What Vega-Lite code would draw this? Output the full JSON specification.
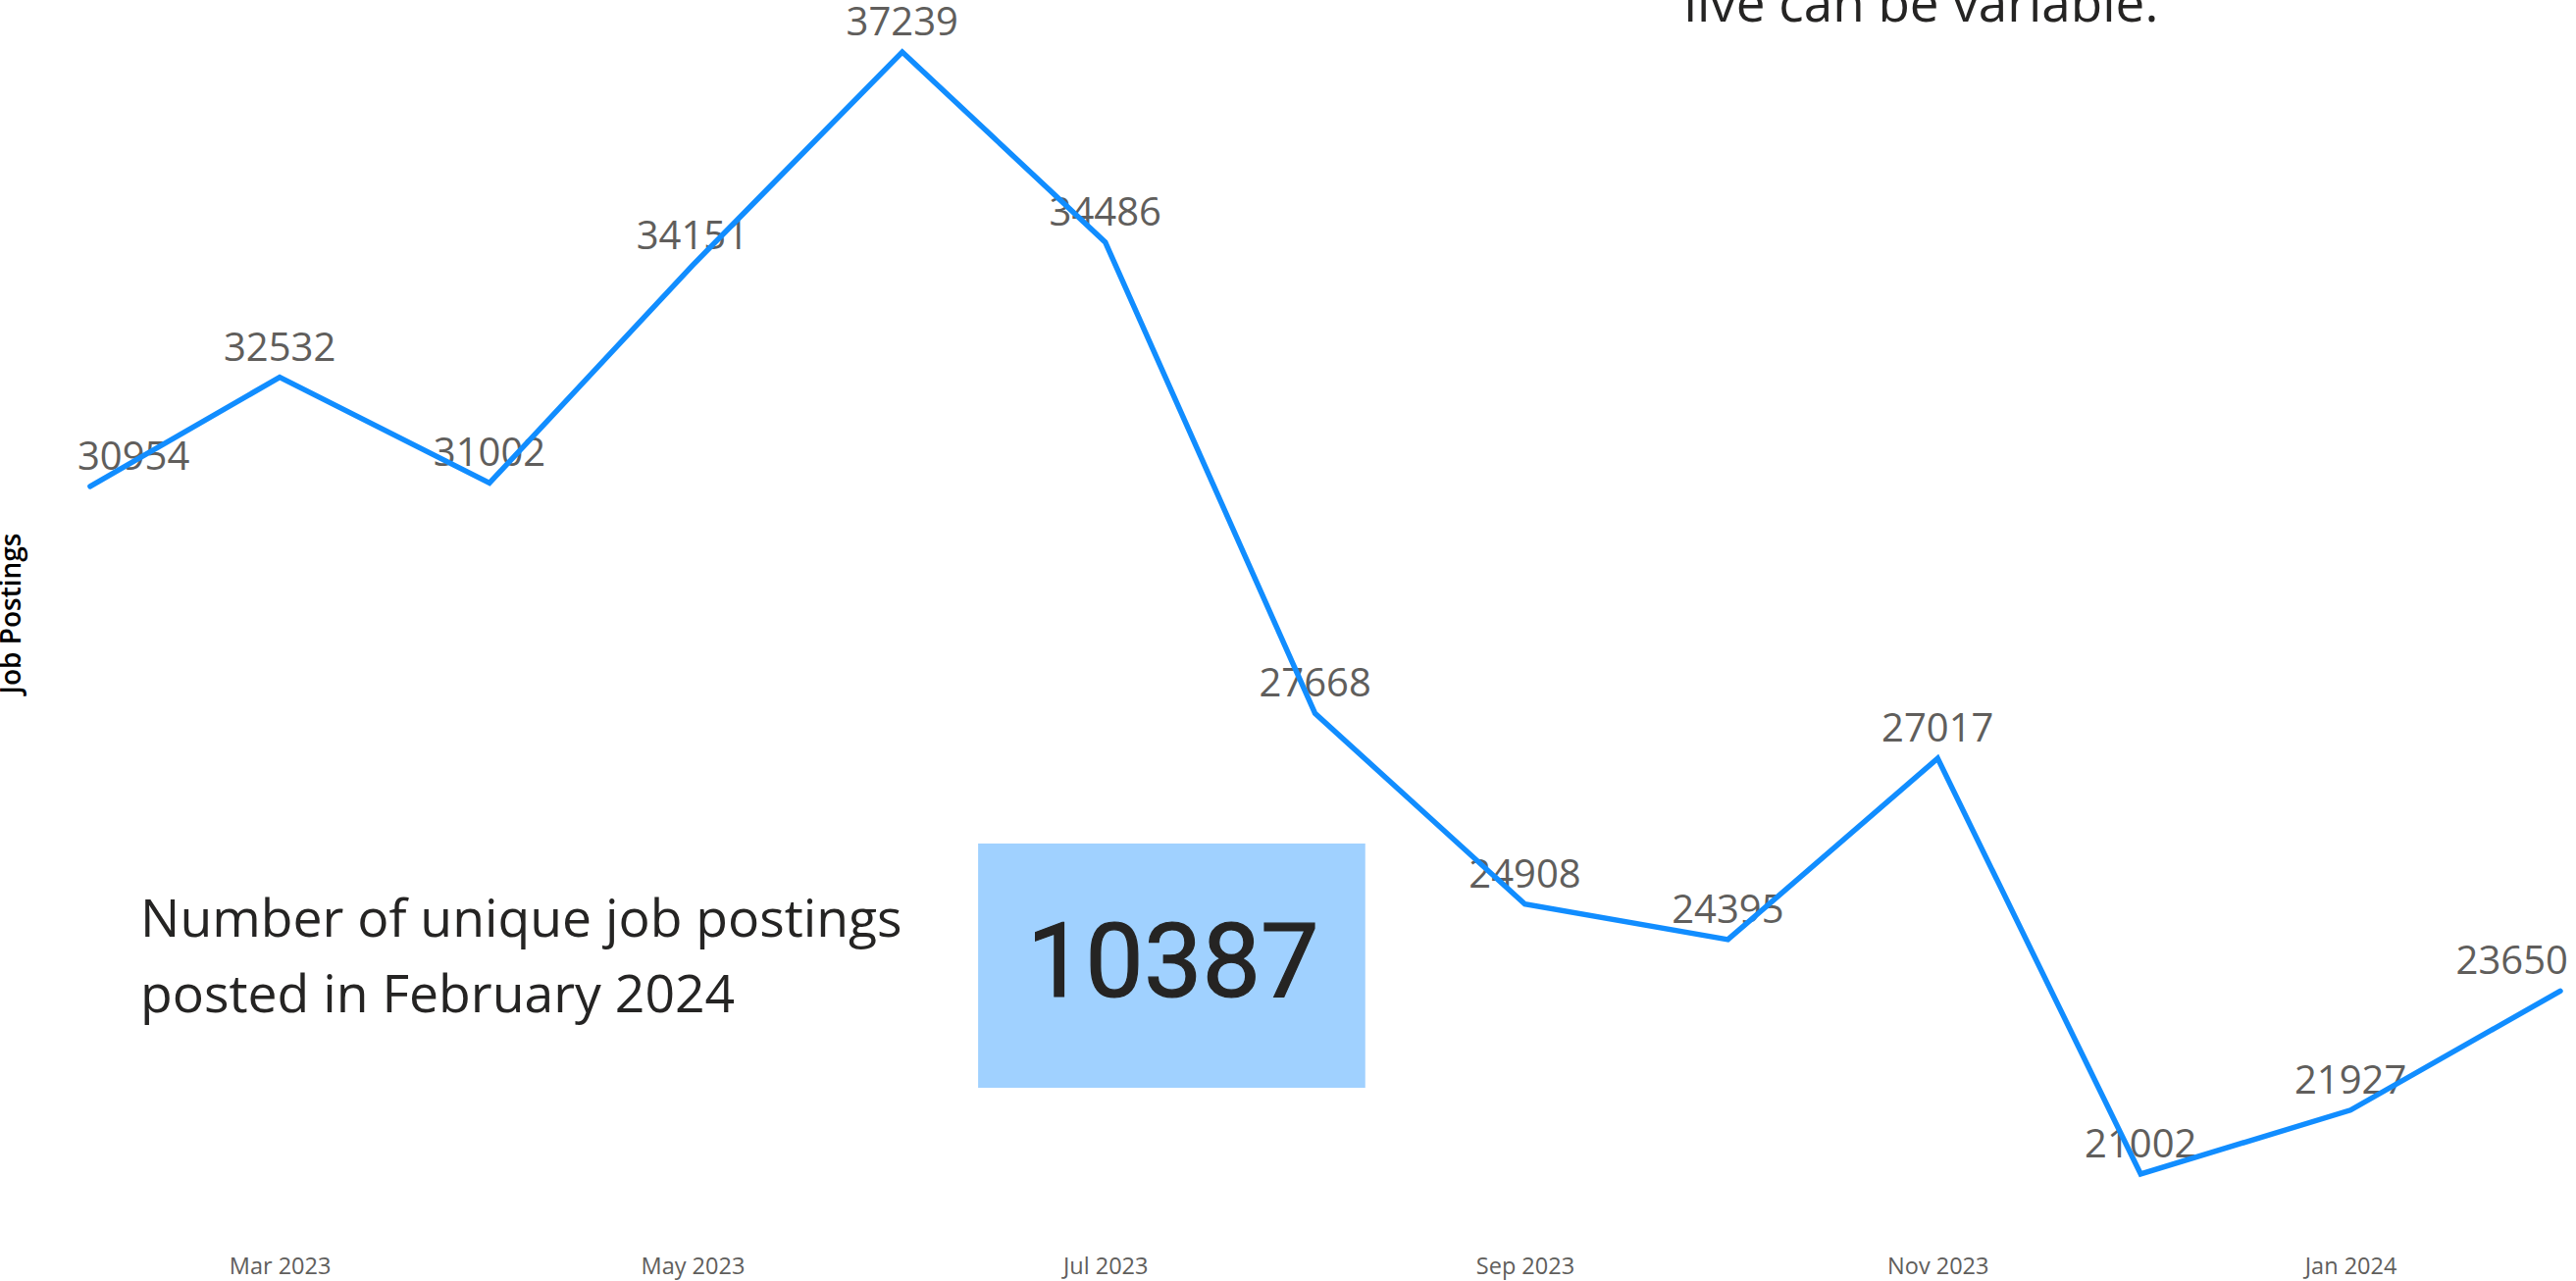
{
  "$schema": "https://vega.github.io/schema/vega-lite/v6.json",
  "autosize": {"type": "none"},
  "width": 2539,
  "height": 1250,
  "padding": {"left": 79, "top": 0, "right": 8, "bottom": 56},
  "background": "white",
  "config": {"view": {"stroke": null}},
  "datasets": {
    "postings": [
      {"date": "2023-02-01", "value": 30954},
      {"date": "2023-03-01", "value": 32532},
      {"date": "2023-04-01", "value": 31002},
      {"date": "2023-05-01", "value": 34151},
      {"date": "2023-06-01", "value": 37239},
      {"date": "2023-07-01", "value": 34486},
      {"date": "2023-08-01", "value": 27668},
      {"date": "2023-09-01", "value": 24908},
      {"date": "2023-10-01", "value": 24395},
      {"date": "2023-11-01", "value": 27017},
      {"date": "2023-12-01", "value": 21002},
      {"date": "2024-01-01", "value": 21927},
      {"date": "2024-02-01", "value": 23650}
    ],
    "card": [
      {"date": "2023-06-12T05:00:00Z", "date2": "2023-08-08T10:00:00Z", "value": 25785, "value2": 22251}
    ],
    "cardValue": [
      {"date": "2023-07-11T00:00:00Z", "value": 23571, "label": "10387"}
    ],
    "caption": [
      {"date": "2023-02-08T10:00:00Z", "value": 24430, "label": "Number of unique job postings"},
      {"date": "2023-02-08T10:00:00Z", "value": 23343, "label": "posted in February 2024"}
    ],
    "note": [
      {"date": "2023-09-24T12:00:00Z", "value": 37679, "label": "live can be variable."}
    ]
  },
  "encoding": {
    "x": {
      "field": "date",
      "type": "temporal",
      "scale": {
        "type": "utc",
        "domain": [
          {"year": 2023, "month": 1, "date": 30, "hours": 3, "utc": true},
          {"year": 2024, "month": 2, "date": 2, "hours": 4, "utc": true}
        ]
      },
      "axis": {
        "title": null,
        "values": [
          {"year": 2023, "month": 3, "date": 1, "utc": true},
          {"year": 2023, "month": 5, "date": 1, "utc": true},
          {"year": 2023, "month": 7, "date": 1, "utc": true},
          {"year": 2023, "month": 9, "date": 1, "utc": true},
          {"year": 2023, "month": 11, "date": 1, "utc": true},
          {"year": 2024, "month": 1, "date": 1, "utc": true}
        ],
        "format": "%b %Y",
        "labelFont": "Open Sans",
        "labelFontSize": 23.5,
        "labelColor": "#605E5C",
        "ticks": false,
        "tickSize": 0,
        "domain": false,
        "grid": false,
        "labelPadding": 29
      }
    },
    "y": {
      "field": "value",
      "type": "quantitative",
      "scale": {"domain": [20249, 37991], "zero": false, "nice": false},
      "axis": {
        "title": "Job Postings",
        "titleFont": "Open Sans",
        "titleFontSize": 28,
        "titleFontWeight": 600,
        "titleColor": "#000000",
        "titlePadding": 53,
        "labels": false,
        "ticks": false,
        "tickSize": 0,
        "domain": false,
        "grid": false
      }
    }
  },
  "layer": [
    {
      "data": {"name": "postings"},
      "transform": [{"filter": "datum.value != 30954 && datum.value != 23650"}],
      "mark": {"type": "text", "font": "Open Sans", "fontSize": 40, "color": "#605E5C", "align": "center", "baseline": "alphabetic", "dy": -17},
      "encoding": {"text": {"field": "value", "type": "quantitative", "format": "d"}}
    },
    {
      "data": {"name": "postings"},
      "transform": [{"filter": "datum.value == 30954"}],
      "mark": {"type": "text", "font": "Open Sans", "fontSize": 40, "color": "#605E5C", "align": "left", "baseline": "alphabetic", "dx": -13, "dy": -17},
      "encoding": {"text": {"field": "value", "type": "quantitative", "format": "d"}}
    },
    {
      "data": {"name": "postings"},
      "transform": [{"filter": "datum.value == 23650"}],
      "mark": {"type": "text", "font": "Open Sans", "fontSize": 40, "color": "#605E5C", "align": "right", "baseline": "alphabetic", "dx": 8, "dy": -17},
      "encoding": {"text": {"field": "value", "type": "quantitative", "format": "d"}}
    },
    {
      "data": {"name": "postings"},
      "mark": {"type": "line", "color": "#118DFF", "strokeWidth": 5.5, "strokeCap": "round", "strokeJoin": "miter"},
      "encoding": {}
    },
    {
      "data": {"name": "card"},
      "mark": {"type": "rect", "color": "#A0D1FF"},
      "encoding": {
        "x2": {"field": "date2"},
        "y2": {"field": "value2"}
      }
    },
    {
      "data": {"name": "cardValue"},
      "mark": {"type": "text", "font": "Roboto", "fontSize": 106, "fontWeight": "normal", "fill": "#252423", "stroke": "#252423", "strokeWidth": 1.2, "align": "center", "baseline": "alphabetic"},
      "encoding": {"text": {"field": "label", "type": "nominal"}}
    },
    {
      "data": {"name": "caption"},
      "mark": {"type": "text", "font": "Open Sans", "fontSize": 53.5, "color": "#252423", "align": "left", "baseline": "alphabetic"},
      "encoding": {"text": {"field": "label", "type": "nominal"}}
    },
    {
      "data": {"name": "note"},
      "mark": {"type": "text", "font": "Open Sans", "fontSize": 53, "color": "#252423", "align": "left", "baseline": "alphabetic"},
      "encoding": {"text": {"field": "label", "type": "nominal"}}
    }
  ]
}
